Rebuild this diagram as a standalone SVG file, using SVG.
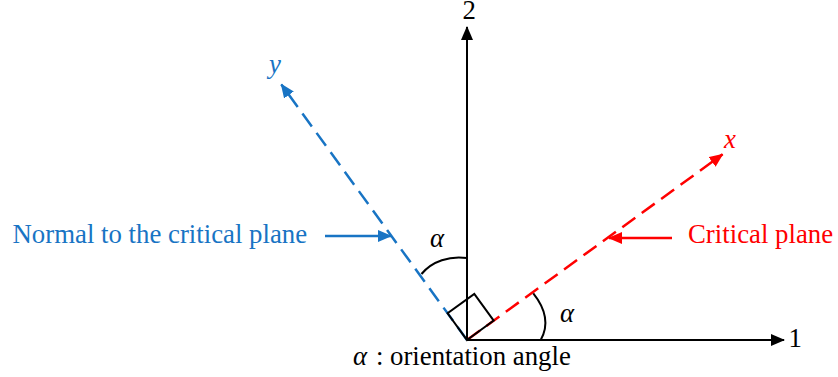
<svg xmlns="http://www.w3.org/2000/svg" width="838" height="377" viewBox="0 0 838 377">
  <style>
    .t { font-family: "Liberation Serif", "Times New Roman", serif; font-size: 26.8px; }
    .it { font-style: italic; }
    .blue { fill: #1874C4; }
    .red { fill: #FF0000; }
    .blk { fill: #000000; }
    .axis { stroke: #000; stroke-width: 2; fill: none; }
    .dblue { stroke: #1874C4; stroke-width: 2.5; fill: none; stroke-dasharray: 16 8; }
    .dred { stroke: #FF0000; stroke-width: 2.5; fill: none; stroke-dasharray: 16 8; }
    .sblue { stroke: #1874C4; stroke-width: 2.5; fill: none; }
    .sred { stroke: #FF0000; stroke-width: 2.5; fill: none; }
    .thin { stroke: #000; stroke-width: 2; fill: none; }
  </style>
  <defs>
    <marker id="ahBlack" viewBox="0 0 14 12" refX="13" refY="6" markerWidth="14" markerHeight="12" markerUnits="userSpaceOnUse" orient="auto">
      <path d="M0,0 L14,6 L0,12 z" fill="#000"/>
    </marker>
    <marker id="ahBlue" viewBox="0 0 14 12" refX="13" refY="6" markerWidth="14" markerHeight="12" markerUnits="userSpaceOnUse" orient="auto">
      <path d="M0,0 L14,6 L0,12 z" fill="#1874C4"/>
    </marker>
    <marker id="ahRed" viewBox="0 0 14 12" refX="13" refY="6" markerWidth="14" markerHeight="12" markerUnits="userSpaceOnUse" orient="auto">
      <path d="M0,0 L14,6 L0,12 z" fill="#FF0000"/>
    </marker>
  </defs>

  <g id="connectors">
    <line id="axis-y-dir" class="dblue" x1="467" y1="340" x2="281.3" y2="84.4" marker-end="url(#ahBlue)"/>
    <line id="axis-x-dir" class="dred" x1="467" y1="340" x2="722.6" y2="154.3" marker-end="url(#ahRed)"/>
    <line id="axis-1" class="axis" x1="467" y1="340" x2="784" y2="340" marker-end="url(#ahBlack)"/>
    <line id="axis-2" class="axis" x1="467" y1="340" x2="467" y2="27" marker-end="url(#ahBlack)"/>
    <line id="normal-pointer" class="sblue" x1="325" y1="236" x2="391" y2="236" marker-end="url(#ahBlue)"/>
    <line id="plane-pointer" class="sred" x1="672" y1="238" x2="609" y2="238" marker-end="url(#ahRed)"/>
    <path id="right-angle" class="thin" d="M467,340 L493.7,320.6 L474.3,293.9 L447.6,313.3 Z"/>
    <path id="arc-upper" class="thin" d="M421.5,274 C432,261 450,255.5 467,258"/>
    <path id="arc-lower" class="thin" d="M533.3,293.3 Q553,318 540.7,340"/>
  </g>

  <g id="label-2"><text class="t blk" x="462.5" y="19">2</text></g>
  <g id="label-1"><text class="t blk" x="788.5" y="347">1</text></g>
  <g id="label-y"><text class="t it blue" x="269" y="73">y</text></g>
  <g id="label-x"><text class="t it red" x="724" y="148">x</text></g>
  <g id="label-normal"><text class="t blue" x="12.5" y="243">Normal to the critical plane</text></g>
  <g id="label-plane"><text class="t red" x="688" y="243">Critical plane</text></g>
  <g id="label-alpha-upper"><text class="t it blk" x="430" y="247">α</text></g>
  <g id="label-alpha-lower"><text class="t it blk" x="560" y="322">α</text></g>
  <g id="label-legend">
    <text class="t blk" y="365"><tspan class="it" x="353">α</tspan><tspan x="376">:</tspan><tspan x="390">orientation angle</tspan></text>
  </g>
</svg>
